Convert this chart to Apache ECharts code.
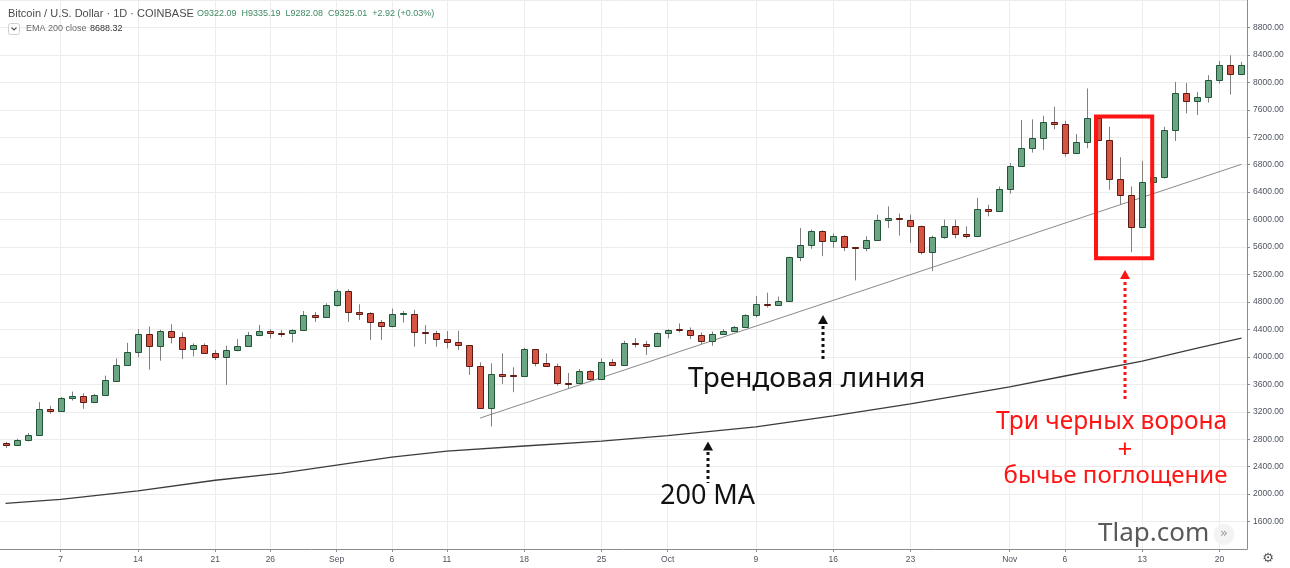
<!DOCTYPE html>
<html><head><meta charset="utf-8">
<script src="https://cdn.jsdelivr.net/npm/echarts@6/dist/echarts.min.js"></script>
<style>html,body{margin:0;padding:0;background:#fff}#c{width:1290px;height:568px}</style>
</head><body><div id="c"></div>
<script>
// ---------- DATA ----------
const dates = [
'08-02','08-03','08-04','08-05','08-06','08-07','08-08','08-09','08-10','08-11','08-12','08-13','08-14','08-15','08-16','08-17','08-18','08-19','08-20','08-21','08-22','08-23','08-24','08-25','08-26','08-27','08-28','08-29','08-30','08-31',
'09-01','09-02','09-03','09-04','09-05','09-06','09-07','09-08','09-09','09-10','09-11','09-12','09-13','09-14','09-15','09-16','09-17','09-18','09-19','09-20','09-21','09-22','09-23','09-24','09-25','09-26','09-27','09-28','09-29','09-30',
'10-01','10-02','10-03','10-04','10-05','10-06','10-07','10-08','10-09','10-10','10-11','10-12','10-13','10-14','10-15','10-16','10-17','10-18','10-19','10-20','10-21','10-22','10-23','10-24','10-25','10-26','10-27','10-28','10-29','10-30','10-31',
'11-01','11-02','11-03','11-04','11-05','11-06','11-07','11-08','11-09','11-10','11-11','11-12','11-13','11-14','11-15','11-16','11-17','11-18','11-19','11-20','11-21','11-22'];

const open = [
2739,2710,2790,2865,3243,3218,3400,3427,3344,3441,3653,3881,4070,4331,4161,4379,4283,4109,4167,4060,4002,4103,4157,4316,4370,4350,4343,4393,4612,4582,
4752,4955,4650,4640,4501,4443,4630,4631,4365,4341,4254,4210,4171,3862,3253,3746,3735,3726,4113,3910,3871,3625,3624,3790,3678,3920,3885,4200,4190,4161,
4345,4400,4393,4316,4225,4327,4370,4432,4607,4776,4756,4820,5448,5637,5830,5695,5757,5598,5579,5709,5989,6024,6000,5912,5531,5749,5902,5792,5763,6155,6130,
6449,6787,7049,7185,7417,7393,6976,7127,7475,7160,6590,6352,5894,6541,6619,7305,7852,7726,7789,8031,8259,8118];
const close = [
2710,2793,2865,3247,3218,3402,3431,3344,3450,3659,3881,4070,4331,4161,4379,4283,4109,4167,4060,4002,4103,4157,4316,4370,4345,4340,4393,4607,4582,4752,
4955,4654,4631,4501,4443,4631,4636,4356,4341,4254,4210,4171,3862,3253,3746,3726,3722,4113,3910,3871,3624,3615,3790,3678,3920,3885,4200,4190,4161,4345,
4393,4390,4316,4225,4327,4370,4432,4607,4776,4756,4820,5448,5637,5830,5695,5757,5598,5579,5709,5989,6024,6010,5912,5531,5749,5902,5792,5763,6155,6130,6449,
6787,7049,7185,7417,7393,6976,7127,7475,7160,6590,6362,5894,6541,6619,7305,7852,7726,7789,8031,8259,8118,8259];
const low = [
2672,2701,2768,2860,3170,3204,3363,3243,3340,3430,3640,3870,3993,3813,3944,4196,3968,4007,4055,3954,3591,4080,4150,4300,4268,4290,4210,4380,4509,4570,
4730,4509,4538,4248,4248,4430,4501,4147,4186,4147,4123,4099,3736,3243,2986,3605,3485,3716,3862,3862,3581,3533,3605,3653,3668,3871,3880,4138,4026,4152,
4268,4356,4258,4186,4161,4320,4360,4418,4573,4718,4742,4815,5394,5574,5467,5589,5540,5114,5540,5700,5879,5767,5661,5492,5249,5720,5728,5728,5750,6047,6115,
6377,6770,6976,7015,7316,6918,6960,7040,7146,6435,6217,5525,5879,6507,6600,7146,7548,7523,7707,7983,7823,8114];
const high = [
2760,2807,2890,3340,3286,3417,3494,3470,3460,3726,3978,4205,4403,4443,4395,4476,4356,4196,4196,4099,4161,4258,4364,4466,4403,4390,4403,4669,4655,4781,
4984,4984,4766,4650,4538,4704,4669,4684,4462,4379,4375,4379,4171,3920,3906,4051,3848,4132,4113,4051,3900,3765,3823,3809,3978,3968,4234,4273,4234,4356,
4403,4486,4428,4356,4370,4403,4451,4621,4887,4936,4878,5458,5879,5855,5844,5796,5772,5600,5757,6072,6193,6087,6072,5912,5767,6000,6000,5902,6314,6217,6483,
6822,7451,7461,7513,7644,7440,7247,7911,7490,7353,6909,6483,6856,6750,7353,8006,7992,7861,8104,8311,8394,8297];

// EMA 200 at a few dates
const emaDates  = ['08-02','08-07','08-14','08-21','08-27','09-01','09-06','09-11','09-18','09-25','10-01','10-09','10-16','10-23','11-01','11-06','11-13','11-18','11-22'];
const emaValues = [1864,1922,2046,2202,2307,2423,2539,2626,2701,2771,2851,2981,3141,3315,3562,3721,3939,4128,4273];

// trend line end points
const trendDates  = ['09-14','11-22'];
const trendValues = [3108,6806];

// x tick labels
const tickDates = ['08-07','08-14','08-21','08-26','09-01','09-06','09-11','09-18','09-25','10-01','10-09','10-16','10-23','11-01','11-06','11-13','11-20'];
const tickTexts = ['7','14','21','26','Sep','6','11','18','25','Oct','9','16','23','Nov','6','13','20'];

// y axis
const yMin = 1200, yMax = 9200, yStep = 400;
const lastPrice = 8031.16;

// highlighted pattern box
const boxStart = '11-09', boxEnd = '11-14', boxTop = 7504, boxBottom = 5438;

// ---------- CHART ----------
const tickMap = {};
tickDates.forEach((d, i) => { tickMap[d] = tickTexts[i]; });
const isTick = (idx, val) => Object.prototype.hasOwnProperty.call(tickMap, val);

const ohlc = dates.map((d, i) => [i, open[i], close[i], low[i], high[i]]);

const UP = '#6ba583', DOWN = '#d75442', UPB = '#225437', DOWNB = '#5b1a13', WICK = '#808080';
const GRIDC = '#ececec';

function renderCandle(params, api) {
  const i = api.value(0), o = api.value(1), c = api.value(2), l = api.value(3), h = api.value(4);
  const pO = api.coord([i, o]), pC = api.coord([i, c]), pL = api.coord([i, l]), pH = api.coord([i, h]);
  const x0 = Math.round(pO[0]);
  const up = c >= o;
  const top = Math.round(Math.min(pO[1], pC[1])) + 0.5;
  const bot = Math.round(Math.max(pO[1], pC[1])) + 0.5;
  return {type: 'group', children: [
    {type: 'line', shape: {x1: x0 + 0.5, y1: pH[1], x2: x0 + 0.5, y2: pL[1]}, style: {stroke: WICK, lineWidth: 1}},
    {type: 'rect', shape: {x: x0 - 2.5, y: top, width: 6, height: Math.max(bot - top, 1)},
      style: {fill: up ? UP : DOWN, stroke: up ? UPB : DOWNB, lineWidth: 1}}
  ]};
}

const chart = echarts.init(document.getElementById('c'), null, {renderer: 'canvas'});
const option = {
  animation: false,
  backgroundColor: '#ffffff',
  grid: {left: 0, right: 43, top: 0, bottom: 19, containLabel: false},
  xAxis: {
    type: 'category', data: dates, boundaryGap: true,
    axisLine: {show: true, lineStyle: {color: '#8c8c8c', width: 1}},
    axisTick: {show: true, alignWithLabel: true, interval: isTick, length: 3, lineStyle: {color: '#8c8c8c'}},
    axisLabel: {interval: isTick, formatter: v => tickMap[v] || '', color: '#4c525e', fontSize: 8.5, margin: 6, fontFamily: 'Liberation Sans'},
    splitLine: {show: false}
  },
  yAxis: {
    type: 'value', position: 'right', min: yMin, max: yMax, interval: yStep,
    axisLine: {show: true, lineStyle: {color: '#8c8c8c', width: 1}},
    axisTick: {show: true, length: 3, lineStyle: {color: '#8c8c8c'}},
    axisLabel: {show: true, formatter: v => v.toFixed(2), color: '#4c525e', fontSize: 8.5, margin: 6, fontFamily: 'Liberation Sans', showMinLabel: false, showMaxLabel: false},
    splitLine: {show: true, lineStyle: {color: GRIDC, width: 1}}
  },
  series: [
    { name: 'vgrid', type: 'line', data: [], silent: true, z: 0,
      markLine: { z: 0, silent: true, symbol: 'none', label: {show: false}, animation: false,
        lineStyle: {color: GRIDC, type: 'solid', width: 1},
        data: tickDates.map(d => ({xAxis: d})) } },
    { name: 'EMA 200', type: 'line', data: emaDates.map((d, i) => [d, emaValues[i]]), showSymbol: false, symbol: 'none',
      lineStyle: {color: '#3c3c3c', width: 1.3}, z: 2, silent: true },
    { name: 'trend', type: 'line', data: trendDates.map((d, i) => [d, trendValues[i]]), showSymbol: false, symbol: 'none',
      lineStyle: {color: '#8a8a8a', width: 1}, z: 2, silent: true },
    { name: 'BTCUSD', type: 'custom', data: ohlc, renderItem: renderCandle, z: 4, silent: true,
      encode: {x: 0, y: [1, 2, 3, 4]},
      markLine: { silent: true, symbol: 'none', animation: false,
        lineStyle: {opacity: 0},
        label: {show: true, position: 'end', distance: 1, formatter: lastPrice.toFixed(2), color: '#fff', backgroundColor: '#e04a36',
          padding: [3, 4, 2, 4], fontSize: 8.5, fontWeight: 'bold', fontFamily: 'Liberation Sans'},
        data: [{yAxis: lastPrice}] } }
  ]
};
chart.setOption(option);

const px = d => chart.convertToPixel({xAxisIndex: 0}, d);
const py = v => chart.convertToPixel({yAxisIndex: 0}, v);
const bx1 = px(boxStart) - 2, bx2 = px(boxEnd) - 1, by1 = py(boxTop), by2 = py(boxBottom);

const RED = '#ff1414';
const T = (x, y, text, font, fill, align) => ({type: 'text', x: x, y: y, silent: true, z: 100,
  style: {text: text, font: font, fill: fill, align: align || 'left', verticalAlign: 'middle'}});
const dotted = (x, y1, y2, color) => ({type: 'line', silent: true, z: 100,
  shape: {x1: x, y1: y1, x2: x, y2: y2}, style: {stroke: color, lineWidth: 3, lineDash: [3, 3]}});
const head = (x, y, color) => ({type: 'polygon', silent: true, z: 100,
  shape: {points: [[x, y], [x - 5, y + 9], [x + 5, y + 9]]}, style: {fill: color}});

chart.setOption({
  graphic: [
    T(8, 13.5, 'Bitcoin / U.S. Dollar · 1D · COINBASE', '11px "Liberation Sans"', '#4b4b4b'),
    T(197, 14, 'O9322.09  H9335.19  L9282.08  C9325.01  +2.92 (+0.03%)', '9px "Liberation Sans"', '#3f8a63'),
    {type: 'rect', silent: true, z: 100, shape: {x: 8.5, y: 23.5, width: 11, height: 11, r: 2}, style: {fill: '#fff', stroke: '#cfcfcf', lineWidth: 1}},
    {type: 'polyline', silent: true, z: 101, shape: {points: [[11.5, 27.5], [14, 30], [16.5, 27.5]]}, style: {stroke: '#555', lineWidth: 1.2, fill: null}},
    T(26, 29, 'EMA 200 close', '9px "Liberation Sans"', '#6a6a6a'),
    T(90, 29, '8688.32', '9px "Liberation Sans"', '#333333'),

    T(688, 379, 'Трендовая линия', '28px "Noto Sans"', '#111111'),
    head(823, 315, '#111'), dotted(823, 326, 362, '#111'),
    T(660, 496, '200 MA', '27px "Noto Sans"', '#111111'),
    head(708, 441.5, '#111'), dotted(708, 452, 483, '#111'),

    head(1125, 270, RED), dotted(1125, 282, 401, RED),
    T(1111.5, 422, 'Три черных ворона', '24.5px "Noto Sans"', RED, 'center'),
    T(1125, 451, '+', '26px "Noto Sans"', RED, 'center'),
    T(1115.5, 476, 'бычье поглощение', '24px "Noto Sans"', RED, 'center'),

    {type: 'rect', silent: true, z: 90, shape: {x: bx1, y: by1, width: bx2 - bx1, height: by2 - by1}, style: {fill: null, stroke: RED, lineWidth: 4}},

    T(1098, 534, 'Tlap.com', '26px "Noto Sans"', '#595959'),
    {type: 'circle', silent: true, z: 100, shape: {cx: 1224, cy: 534.5, r: 10.5}, style: {fill: '#f3f3f3'}},
    T(1224, 534, '»', '13px "DejaVu Sans"', '#9a9a9a', 'center'),
    T(1268, 559, '⚙', '13px "DejaVu Sans"', '#555555', 'center')
  ]
});
</script>
</body></html>
